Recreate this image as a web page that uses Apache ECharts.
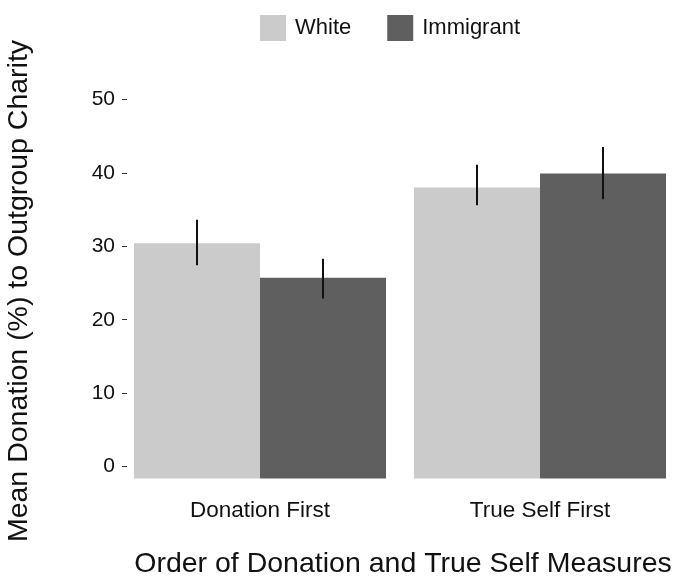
<!DOCTYPE html>
<html>
<head>
<meta charset="utf-8">
<script src="https://cdn.jsdelivr.net/npm/echarts@6/dist/echarts.min.js"></script>
<style>
  html, body { margin: 0; padding: 0; background: #fff; }
  #chart { width: 673px; height: 581px; }
</style>
</head>
<body>
<div id="chart"></div>
<script>
// Order conditions on the x axis
const categories = ['Donation First', 'True Self First'];
// Group names (legend)
const groups = ['White', 'Immigrant'];
// Mean donation (%) per condition
const whiteMeans = [30.4, 38.0];
const immigrantMeans = [25.7, 39.9];
// Error bar limits per condition
const whiteLow = [27.4, 35.6];
const whiteHigh = [33.6, 41.1];
const immigrantLow = [22.9, 36.4];
const immigrantHigh = [28.3, 43.5];
// Y axis ticks
const yTicks = [0, 10, 20, 30, 40, 50];

const FONT = '"Liberation Sans", Arial, Helvetica, sans-serif';
const COLORS = { White: '#cbcbcb', Immigrant: '#5f5f5f' };
const BAR_FRAC = 0.45;     // each bar's share of a category band
const BAR_FLOOR = -1.6;    // bars are filled down to just above the panel floor

function barRender(side) {
  return function (params, api) {
    const i = api.value(0);
    const v = api.value(1);
    const band = api.size([1, 0])[0];
    const w = band * BAR_FRAC;
    const top = api.coord([i, v]);
    const base = api.coord([i, BAR_FLOOR]);
    const x0 = side < 0 ? top[0] - w : top[0];
    return {
      type: 'rect',
      shape: { x: x0, y: top[1], width: w, height: base[1] - top[1] },
      style: { fill: api.visual('color') }
    };
  };
}

function errRender(side) {
  return function (params, api) {
    const i = api.value(0);
    const band = api.size([1, 0])[0];
    const w = band * BAR_FRAC;
    const lo = api.coord([i, api.value(1)]);
    const hi = api.coord([i, api.value(2)]);
    const x = lo[0] + side * w / 2;
    return {
      type: 'line',
      shape: { x1: x, y1: lo[1], x2: x, y2: hi[1] },
      style: { stroke: '#111', lineWidth: 2 }
    };
  };
}

const chart = echarts.init(document.getElementById('chart'), null, { renderer: 'canvas' });

chart.setOption({
  animation: false,
  backgroundColor: '#fff',
  textStyle: { fontFamily: FONT },
  legend: {
    data: groups,
    left: 255,
    top: 10,
    icon: 'rect',
    itemWidth: 26,
    itemHeight: 26,
    itemGap: 36,
    textStyle: { fontFamily: FONT, fontSize: 22, color: '#111', padding: [0, 0, 0, 4] }
  },
  grid: {
    left: 120, width: 560, top: 81, height: 404,
    containLabel: false,
    outerBoundsMode: 'none'
  },
  xAxis: {
    type: 'category',
    data: categories,
    boundaryGap: true,
    axisLine: { show: false },
    axisTick: { show: true, alignWithLabel: true, length: 4, lineStyle: { color: '#333', width: 1 } },
    axisLabel: { fontFamily: FONT, fontSize: 22.5, color: '#111', margin: 14 },
    name: 'Order of Donation and True Self Measures',
    nameLocation: 'middle',
    nameGap: 65,
    nameTextStyle: { fontFamily: FONT, fontSize: 28.5, color: '#111', padding: [0, 0, 0, 6] }
  },
  yAxis: {
    type: 'value',
    min: -2.5,
    max: 52.5,
    offset: -7,
    splitLine: { show: false },
    axisLine: { show: false },
    axisTick: { show: true, length: 5, customValues: yTicks, lineStyle: { color: '#333', width: 1 } },
    axisLabel: { fontFamily: FONT, fontSize: 21, color: '#111', margin: 12, customValues: yTicks },
    name: 'Mean Donation (%) to Outgroup Charity',
    nameLocation: 'middle',
    nameGap: 93,
    nameTextStyle: { fontFamily: FONT, fontSize: 28.5, color: '#111', padding: [0, 16, 0, 0] }
  },
  series: [
    {
      name: 'White',
      type: 'custom',
      itemStyle: { color: COLORS.White },
      renderItem: barRender(-1),
      encode: { x: 0, y: 1 },
      data: categories.map((c, i) => [i, whiteMeans[i]])
    },
    {
      name: 'Immigrant',
      type: 'custom',
      itemStyle: { color: COLORS.Immigrant },
      renderItem: barRender(1),
      encode: { x: 0, y: 1 },
      data: categories.map((c, i) => [i, immigrantMeans[i]])
    },
    {
      name: 'White error',
      type: 'custom',
      z: 5,
      renderItem: errRender(-1),
      encode: { x: 0, y: [1, 2] },
      data: categories.map((c, i) => [i, whiteLow[i], whiteHigh[i]])
    },
    {
      name: 'Immigrant error',
      type: 'custom',
      z: 5,
      renderItem: errRender(1),
      encode: { x: 0, y: [1, 2] },
      data: categories.map((c, i) => [i, immigrantLow[i], immigrantHigh[i]])
    }
  ]
});
</script>
</body>
</html>
